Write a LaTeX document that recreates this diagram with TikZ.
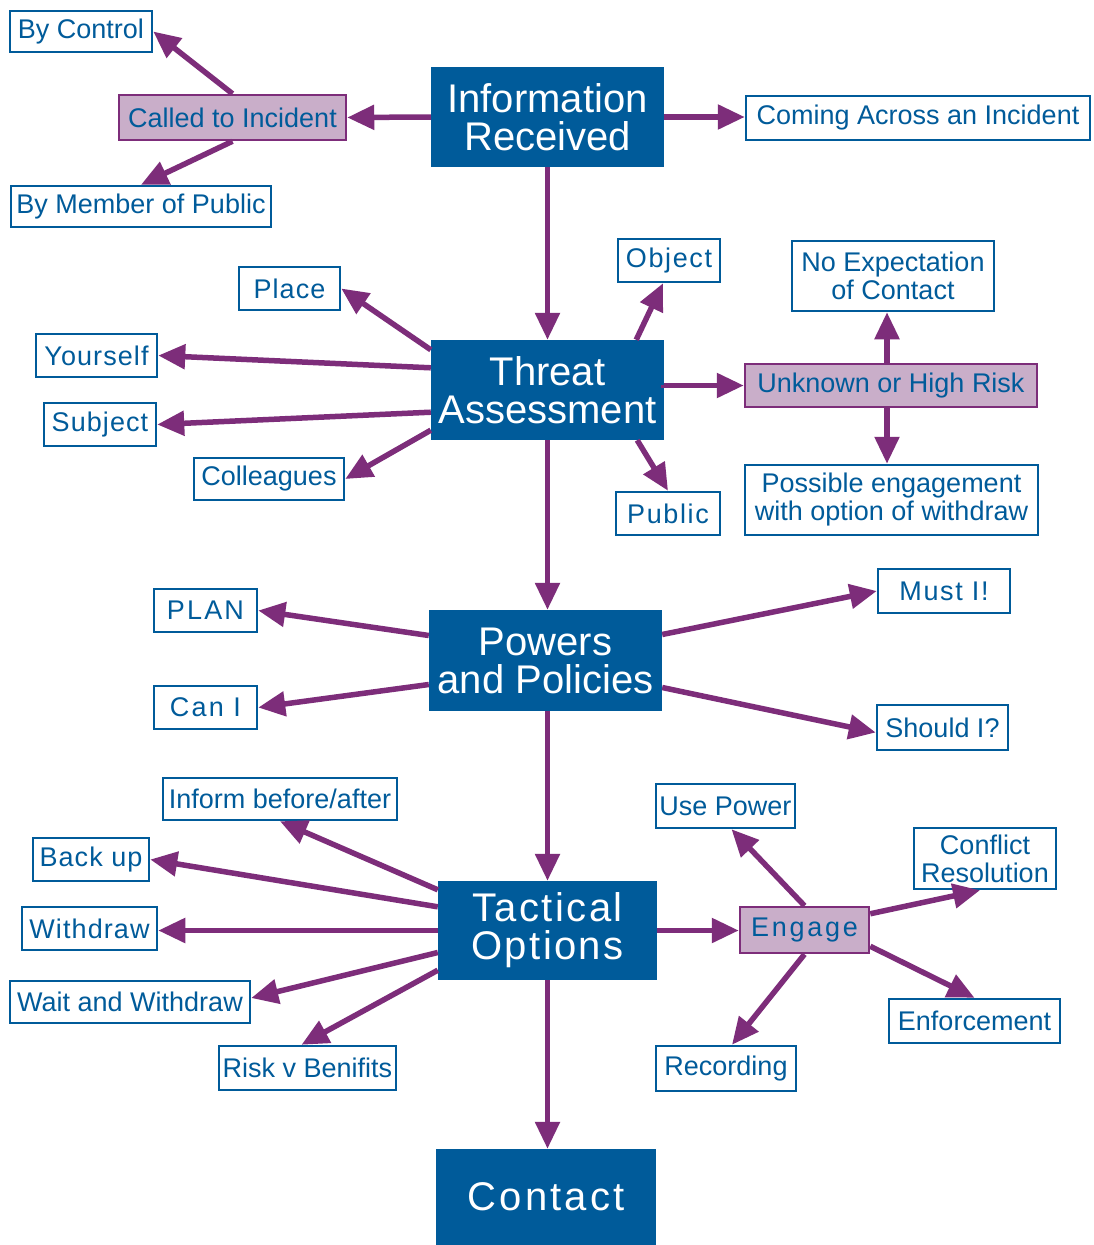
\documentclass[tikz,border=0pt]{standalone}
\usepackage{fontspec}
\setmainfont{Liberation Sans}
\usetikzlibrary{arrows.meta}
\definecolor{dblue}{RGB}{0,91,154}
\definecolor{purp}{RGB}{125,45,122}
\definecolor{pinkf}{RGB}{201,174,201}
\begin{document}
\begin{tikzpicture}[x=1pt,y=-1pt,
  bigbox/.style={fill=dblue, draw=none, text=white, align=center, inner sep=0pt,
    font=\fontsize{40}{38}\selectfont},
  smallbox/.style={fill=white, draw=dblue, line width=2.5pt, text=dblue, align=center, inner sep=0pt,
    font=\fontsize{27}{28}\selectfont},
  pinkbox/.style={fill=pinkf, draw=purp, line width=2.5pt, text=dblue, align=center, inner sep=0pt,
    font=\fontsize{27}{28}\selectfont},
  conn/.style={draw=purp, line width=5.5pt, -{Triangle[length=27pt,width=24pt]}}
]
\useasboundingbox (0,0) rectangle (1093,1245);
\fill[white] (0,0) rectangle (1093,1245);

% main boxes
\node[bigbox, minimum width=233pt, minimum height=100pt] (info) at (547.5,117) {Information\\Received};
\node[bigbox, minimum width=233pt, minimum height=100pt] (threat) at (547.5,390) {Threat\\Assessment};
\node[bigbox, minimum width=233pt, minimum height=101pt] (powers) at (545.5,660.5) {Powers\\and Policies};
\node[bigbox, minimum width=219pt, minimum height=99pt] (tactical) at (547.5,930.5) {\addfontfeature{LetterSpace=6}Tactical\\\addfontfeature{LetterSpace=6}Options};
\node[bigbox, minimum width=220pt, minimum height=96pt] (contact) at (546,1197) {\addfontfeature{LetterSpace=8}Contact};

% information received
\node[smallbox, minimum width=142pt, minimum height=41pt] (byctrl) at (81,31.5) {By Control};
\node[pinkbox, minimum width=227pt, minimum height=45pt] (called) at (232.5,117.5) {Called to Incident};
\node[smallbox, minimum width=260pt, minimum height=41pt] (bymember) at (141,206.5) {By Member of Public};
\node[smallbox, minimum width=344pt, minimum height=44pt] (coming) at (918,118) {Coming Across an Incident};

% threat assessment
\node[smallbox, minimum width=101pt, minimum height=43pt] (place) at (289.5,288.5) {\addfontfeature{LetterSpace=4}Place};
\node[smallbox, minimum width=102pt, minimum height=43pt] (object) at (669,260.5) {\addfontfeature{LetterSpace=6}Object};
\node[smallbox, minimum width=202pt, minimum height=70pt] (noexp) at (893,276) {No Expectation\\of Contact};
\node[smallbox, minimum width=121pt, minimum height=43pt] (yourself) at (96.5,355.5) {\addfontfeature{LetterSpace=4}Yourself};
\node[pinkbox, minimum width=292pt, minimum height=43pt] (unknown) at (891,385.5) {Unknown or High Risk};
\node[smallbox, minimum width=112pt, minimum height=43pt] (subject) at (100,424.5) {\addfontfeature{LetterSpace=4}Subject};
\node[smallbox, minimum width=150pt, minimum height=42pt] (colleagues) at (269,479) {Colleagues};
\node[smallbox, minimum width=104pt, minimum height=43pt] (public) at (668,513.5) {\addfontfeature{LetterSpace=6}Public};
\node[smallbox, minimum width=293pt, minimum height=70pt] (possible) at (891.5,500) {Possible engagement\\with option of withdraw};

% powers and policies
\node[smallbox, minimum width=103pt, minimum height=43pt] (plan) at (205.5,610.5) {\addfontfeature{LetterSpace=8}PLAN};
\node[smallbox, minimum width=132pt, minimum height=44pt] (musti) at (944,591) {\addfontfeature{LetterSpace=6}Must I!};
\node[smallbox, minimum width=103pt, minimum height=43pt] (cani) at (205.5,707.5) {\addfontfeature{LetterSpace=8}Can I};
\node[smallbox, minimum width=131pt, minimum height=45pt] (shouldi) at (942.5,727.5) {Should I?};

% tactical options
\node[smallbox, minimum width=234pt, minimum height=42pt] (inform) at (280,799) {Inform before/after};
\node[smallbox, minimum width=139pt, minimum height=44pt] (usepower) at (725.5,806) {Use Power};
\node[smallbox, minimum width=142pt, minimum height=61pt] (conflict) at (985,858.5) {Conflict\\Resolution};
\node[smallbox, minimum width=116pt, minimum height=43pt] (backup) at (91,859.5) {\addfontfeature{LetterSpace=4}Back up};
\node[pinkbox, minimum width=129pt, minimum height=46pt] (engage) at (804.5,930) {\addfontfeature{LetterSpace=10}Engage};
\node[smallbox, minimum width=135pt, minimum height=43pt] (withdraw) at (89.5,928.5) {\addfontfeature{LetterSpace=4}Withdraw};
\node[smallbox, minimum width=240pt, minimum height=42pt] (wait) at (130,1002) {Wait and Withdraw};
\node[smallbox, minimum width=171pt, minimum height=44pt] (enforcement) at (974.5,1021) {Enforcement};
\node[smallbox, minimum width=177pt, minimum height=44pt] (risk) at (307.5,1068) {Risk v Benifits};
\node[smallbox, minimum width=140pt, minimum height=45pt] (recording) at (726,1068.5) {Recording};

% connectors: information received
\draw[conn] (info.west) -- (called.east);
\draw[conn] (info.east) -- (info.east -| coming.west);
\draw[conn] (called.north) -- (byctrl.east);
\draw[conn] (called.south) -- (bymember.north);
\draw[conn] (info.south) -- (info.south |- threat.north);

% threat assessment
\draw[conn] ([yshift=-10pt]threat.north west) -- (place.east);
\draw[conn] ([yshift=-28pt]threat.north west) -- (yourself.east);
\draw[conn] ([yshift=28pt]threat.south west) -- (subject.east);
\draw[conn] ([yshift=10pt]threat.south west) -- (colleagues.east);
\draw[conn] ([xshift=-28pt]threat.north east) -- ([xshift=-6pt]object.south);
\draw[conn] ([xshift=-27pt]threat.south east) -- (public.north);
\draw[conn] ([yshift=5pt]threat.east) -- (threat.east |- unknown.west) -- (unknown.west);
\draw[conn] ([xshift=-4pt]unknown.north) -- ([xshift=-4pt]unknown.north |- noexp.south);
\draw[conn] ([xshift=-4pt]unknown.south) -- ([xshift=-4pt]unknown.south |- possible.north);
\draw[conn] (threat.south) -- (threat.south |- powers.north);

% powers and policies
\draw[conn] ([yshift=25pt]powers.west) -- (plan.east);
\draw[conn] ([yshift=-24pt]powers.west) -- (cani.east);
\draw[conn] ([yshift=26pt]powers.east) -- (musti.west);
\draw[conn] ([yshift=-27pt]powers.east) -- ([yshift=-5pt]shouldi.west);
\draw[conn] (tactical.north |- powers.south) -- (tactical.north);

% tactical options
\draw[conn] ([yshift=-9pt]tactical.north west) -- (inform.south);
\draw[conn] ([yshift=-26pt]tactical.north west) -- (backup.east);
\draw[conn] (tactical.west) -- (tactical.west -| withdraw.east);
\draw[conn] ([yshift=-22pt]tactical.west) -- ([yshift=4pt]wait.east);
\draw[conn] ([yshift=10pt]tactical.south west) -- ([xshift=-6pt]risk.north);
\draw[conn] (tactical.east) -- (tactical.east -| engage.west);
\draw[conn] (tactical.south) -- (tactical.south |- contact.north);

% engage
\draw[conn] (engage.north) -- ([xshift=6pt]usepower.south);
\draw[conn] ([yshift=-8pt]engage.north east) -- ([xshift=-5pt]conflict.south);
\draw[conn] ([yshift=8pt]engage.south east) -- (enforcement.north);
\draw[conn] (engage.south) -- ([xshift=6pt]recording.north);
\end{tikzpicture}
\end{document}
